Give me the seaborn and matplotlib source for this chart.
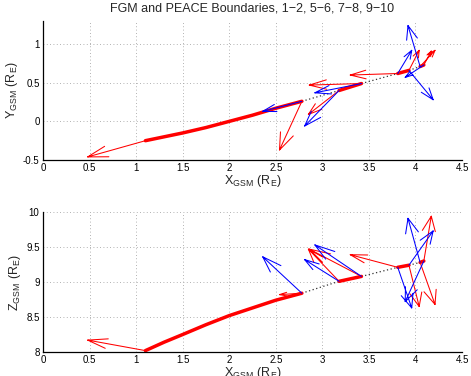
import numpy as np
import pandas as pd
import matplotlib
matplotlib.use('Agg')
import matplotlib.pyplot as plt
import seaborn as sns

# orbit track pieces between boundary pairs (segment id, x, y, z) in R_E
orb_seg = [1, 1, 1, 1, 1, 1, 1, 1, 2, 2, 3, 3, 4, 4]
orb_x = [1.10, 1.30, 1.50, 1.75, 2.00, 2.25, 2.50, 2.78, 3.18, 3.42, 3.81, 3.93, 4.05, 4.09]
orb_y = [-0.25, -0.20, -0.15, -0.08, 0.00, 0.08, 0.17, 0.26, 0.40, 0.49, 0.62, 0.66, 0.71, 0.73]
orb_z = [8.02, 8.14, 8.25, 8.39, 8.52, 8.63, 8.74, 8.84, 9.01, 9.08, 9.21, 9.24, 9.28, 9.30]

# boundary crossings 1,2,5,6,7,8,9,10
bnd_x = [1.10, 2.78, 3.18, 3.42, 3.81, 3.93, 4.05, 4.09]
bnd_y = [-0.25, 0.26, 0.40, 0.49, 0.62, 0.66, 0.71, 0.73]
bnd_z = [8.02, 8.84, 9.01, 9.08, 9.21, 9.24, 9.28, 9.30]

# PEACE normals (red)
pea_nx = [-0.62, -0.24, -0.33, -0.56, -0.51, 0.11, 0.16, 0.08]
pea_ny = [-0.21, -0.63, -0.31, -0.02, -0.02, 0.26, 0.21, 0.18]
pea_nz = [0.15, -0.02, 0.46, 0.39, 0.18, -0.59, -0.60, 0.64]

# FGM normals (blue), none for boundary 1
fgm_nx = [np.nan, -0.42, -0.37, -0.50, 0.15, 0.26, -0.13, -0.20]
fgm_ny = [np.nan, -0.13, -0.46, -0.12, 0.30, -0.38, 0.53, -0.16]
fgm_nz = [np.nan, 0.52, 0.31, 0.45, -0.58, 0.49, 0.63, -0.58]


def quiver_lines(ax, x, y, u, v, color):
    # matlab style quiver, unscaled, heads drawn in data units
    a, b = 0.33, 0.33
    xs, ys = [], []
    for xi, yi, ui, vi in zip(x, y, u, v):
        if np.isnan(ui):
            continue
        tx, ty = xi + ui, yi + vi
        xs += [xi, tx, np.nan, tx - a * (ui + b * vi), tx, tx - a * (ui - b * vi), np.nan]
        ys += [yi, ty, np.nan, ty - a * (vi - b * ui), ty, ty - a * (vi + b * ui), np.nan]
    ax.plot(xs, ys, color=color, lw=0.75)


sns.set_style('white')
plt.rcParams['font.family'] = ['Liberation Sans', 'DejaVu Sans']
plt.rcParams['mathtext.fontset'] = 'custom'
plt.rcParams['mathtext.rm'] = 'Liberation Sans'
plt.rcParams['axes.unicode_minus'] = False

orbit = pd.DataFrame({'seg': orb_seg, 'x': orb_x, 'y': orb_y, 'z': orb_z})

fig = plt.figure(figsize=(4.71, 3.76), dpi=100)
ax1 = fig.add_axes([0.0913, 0.5745, 0.8896, 0.3697])
ax2 = fig.add_axes([0.0913, 0.0638, 0.8896, 0.3723])

panels = [(ax1, 'y', bnd_y, pea_ny, fgm_ny, (-0.5, 1.3), [-0.5, 0, 0.5, 1], ['-0.5', '0', '0.5', '1'], 'Y'),
          (ax2, 'z', bnd_z, pea_nz, fgm_nz, (8, 10), [8, 8.5, 9, 9.5, 10], ['8', '8.5', '9', '9.5', '10'], 'Z')]

for ax, col, bv, pn, fn, ylim, yt, ytl, lab in panels:
    # dotted gaps between track pieces
    firsts = orbit.groupby('seg').first()
    lasts = orbit.groupby('seg').last()
    for s in firsts.index[1:]:
        ax.plot([lasts.loc[s - 1, 'x'], firsts.loc[s, 'x']],
                [lasts.loc[s - 1, col], firsts.loc[s, col]],
                color='0.2', ls=(0, (1, 2)), lw=0.9)
    sns.lineplot(data=orbit, x='x', y=col, units='seg', estimator=None, sort=False,
                 color='#ff0000', lw=2.5, ax=ax)
    quiver_lines(ax, bnd_x, bv, pea_nx, pn, '#ff0000')
    quiver_lines(ax, bnd_x, bv, fgm_nx, fn, '#0000ff')

    ax.set_xlim(0, 4.5)
    ax.set_ylim(*ylim)
    ax.set_xticks([0, 0.5, 1, 1.5, 2, 2.5, 3, 3.5, 4, 4.5])
    ax.set_xticklabels(['0', '0.5', '1', '1.5', '2', '2.5', '3', '3.5', '4', '4.5'])
    ax.set_yticks(yt)
    ax.set_yticklabels(ytl)
    ax.grid(True, color='0.6', ls=(0, (1, 3)), lw=0.6)
    ax.tick_params(direction='in', length=3, width=0.6, labelsize=7, pad=2.5, colors='black')
    for sp in ['top', 'right']:
        ax.spines[sp].set_visible(False)
    for sp in ['left', 'bottom']:
        ax.spines[sp].set_color('black')
        ax.spines[sp].set_linewidth(0.9)
    ax.set_xlabel(r'$\mathregular{X_{GSM}\ (R_E)}$', fontsize=9, labelpad=0)
    ax.set_ylabel(r'$\mathregular{%s_{GSM}\ (R_E)}$' % lab, fontsize=9, labelpad=2)

ax1.set_title('FGM and PEACE Boundaries, 1\u22122, 5\u22126, 7\u22128, 9\u221210', fontsize=9, pad=7)

fig.savefig('out.png', dpi=100)
